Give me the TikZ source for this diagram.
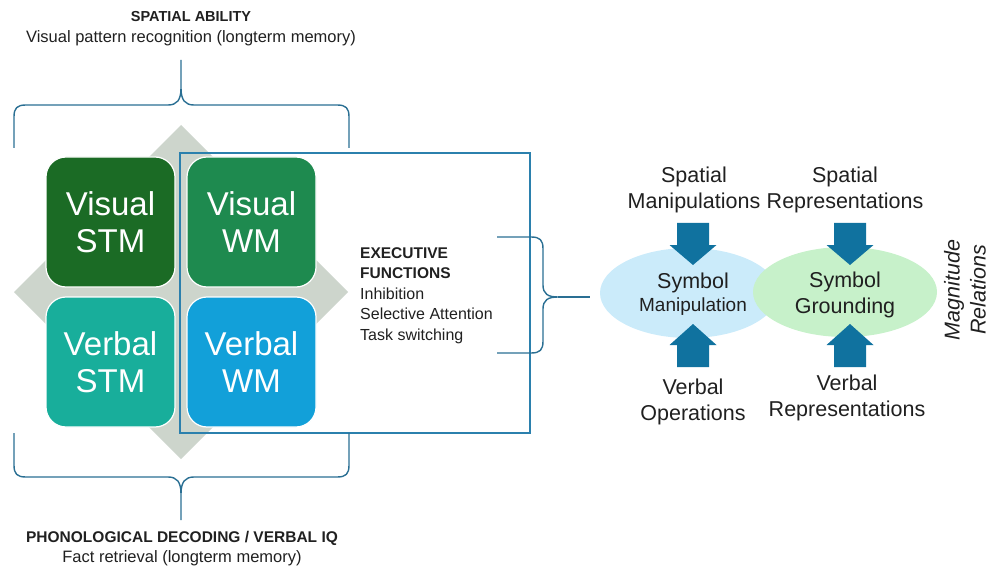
\documentclass[tikz,border=0pt]{standalone}
\usepackage{fontspec}
\setmainfont{Liberation Sans}
\usetikzlibrary{shapes.geometric}

\definecolor{stmvis}{HTML}{1B6B25}
\definecolor{wmvis}{HTML}{1E8A4F}
\definecolor{stmverb}{HTML}{18AE9B}
\definecolor{wmverb}{HTML}{12A0D9}
\definecolor{diamondgray}{HTML}{CDD5CC}
\definecolor{bracecol}{HTML}{2A6F93}
\definecolor{rectcol}{HTML}{2B80AD}
\definecolor{arrowcol}{HTML}{10729F}
\definecolor{ellblue}{HTML}{CBEBFA}
\definecolor{ellgreen}{HTML}{C7F1CA}
\definecolor{txt}{HTML}{202020}

\tikzset{
  memorybox/.style={rectangle, rounded corners=20pt, draw=white, line width=1.2pt,
    minimum width=129pt, minimum height=130pt, text=white, align=center,
    font=\fontsize{33}{37}\selectfont},
  brace/.style={draw=bracecol, line width=1.4pt},
  label/.style={text=txt, align=center, inner sep=0pt},
  rlabel/.style={label, font=\fontsize{21.5}{26}\selectfont},
  fatarrow/.style={fill=arrowcol, draw=none},
}

\begin{document}
\begin{tikzpicture}[x=1pt, y=-1pt]
\useasboundingbox (0,0) rectangle (992,569);

% grey diamond behind the memory grid
\fill[diamondgray] (181,125) -- (348,292) -- (181,459) -- (14,292) -- cycle;

% executive functions frame
\node[draw=rectcol, line width=1.3pt, minimum width=350pt, minimum height=280pt,
      inner sep=0pt] (exec) at (355,293) {};

% the four memory boxes
\node[memorybox, fill=stmvis]  (vstm) at (110.5,222) {Visual\\STM};
\node[memorybox, fill=wmvis]   (vwm)  at (251.5,222) {Visual\\WM};
\node[memorybox, fill=stmverb] (bstm) at (110.5,362) {Verbal\\STM};
\node[memorybox, fill=wmverb]  (bwm)  at (251.5,362) {Verbal\\WM};

% top brace
\draw[brace] (14,148) -- (14,117) .. controls (14,108) and (17,105) .. (26,105)
  -- (168,105) .. controls (177,105) and (181,100) .. (181,88) -- (181,60)
  (181,88) .. controls (181,100) and (185,105) .. (194,105)
  -- (337,105) .. controls (346,105) and (349,108) .. (349,117) -- (349,148);

% bottom brace
\draw[brace] (14,433) -- (14,465) .. controls (14,474) and (17,477) .. (26,477)
  -- (168,477) .. controls (177,477) and (181,482) .. (181,494) -- (181,520)
  (181,494) .. controls (181,482) and (185,477) .. (194,477)
  -- (337,477) .. controls (346,477) and (349,474) .. (349,465) -- (349,433);

% headings
\node[label, font=\bfseries\fontsize{14.5}{17}\selectfont] (spat) at (191,17) {SPATIAL ABILITY};
\node[label, font=\fontsize{16.5}{19}\selectfont] (vpr) at (191,38) {Visual pattern recognition (longterm memory)};
\node[label, font=\bfseries\fontsize{15.5}{18}\selectfont] (phon) at (182,538) {PHONOLOGICAL DECODING / VERBAL IQ};
\node[label, font=\fontsize{16.5}{19}\selectfont] (fact) at (182,558) {Fact retrieval (longterm memory)};

% executive functions list
\node[label, anchor=north west, align=left, font=\fontsize{16}{20.5}\selectfont] (eflist) at (360,247)
  {{\fontsize{15.5}{20.5}\bfseries EXECUTIVE}\\{\fontsize{15.5}{20.5}\bfseries FUNCTIONS}\\Inhibition\\Selective Attention\\Task switching};

% brace from the executive list to the symbol ellipses
\coordinate (bt) at (497,237);
\coordinate (bb) at (497,353);
\coordinate (bc) at (590,297);
\draw[brace] (bt) -- (531,237) .. controls (540,237) and (543,240) .. (543,249)
  -- (543,285) .. controls (543,294) and (548,297) .. (558,297)
  .. controls (548,297) and (543,300) .. (543,309)
  -- (543,341) .. controls (543,350) and (540,353) .. (531,353) -- (bb);
\draw[brace] (558,297) -- (bc);

% symbol ellipses
\node[ellipse, fill=ellblue, minimum width=178pt, minimum height=90pt, inner sep=0pt] (manip) at (689,293) {};
\node[ellipse, fill=ellgreen, minimum width=184pt, minimum height=90pt, inner sep=0pt] (ground) at (845,292) {};

% block arrows
\foreach \cx in {693,850} {
  \fill[fatarrow] (\cx-16,223) -- (\cx+16,223) -- (\cx+16,245) -- (\cx+23.5,245)
     -- (\cx,265) -- (\cx-23.5,245) -- (\cx-16,245) -- cycle;
  \fill[fatarrow] (\cx-16,367) -- (\cx+16,367) -- (\cx+16,345) -- (\cx+23.5,345)
     -- (\cx,324) -- (\cx-23.5,345) -- (\cx-16,345) -- cycle;
}

% ellipse texts
\node[label, font=\fontsize{21.5}{25}\selectfont] (sym1) at (693,283) {Symbol};
\node[label, font=\fontsize{19}{22}\selectfont] (man) at (693,307) {Manipulation};
\node[rlabel] (sym2) at (845,295) {Symbol\\Grounding};

% input labels
\node[rlabel] (spman) at (694,190) {Spatial\\Manipulations};
\node[rlabel] (sprep) at (845,190) {Spatial\\Representations};
\node[rlabel] (vop) at (693,402) {Verbal\\Operations};
\node[rlabel] (vrep) at (847,398) {Verbal\\Representations};

% rotated side label
\node[rlabel, rotate=90, font=\itshape\fontsize{21.5}{26}\selectfont] (mag) at (965,290) {Magnitude\\Relations};

\end{tikzpicture}
\end{document}
